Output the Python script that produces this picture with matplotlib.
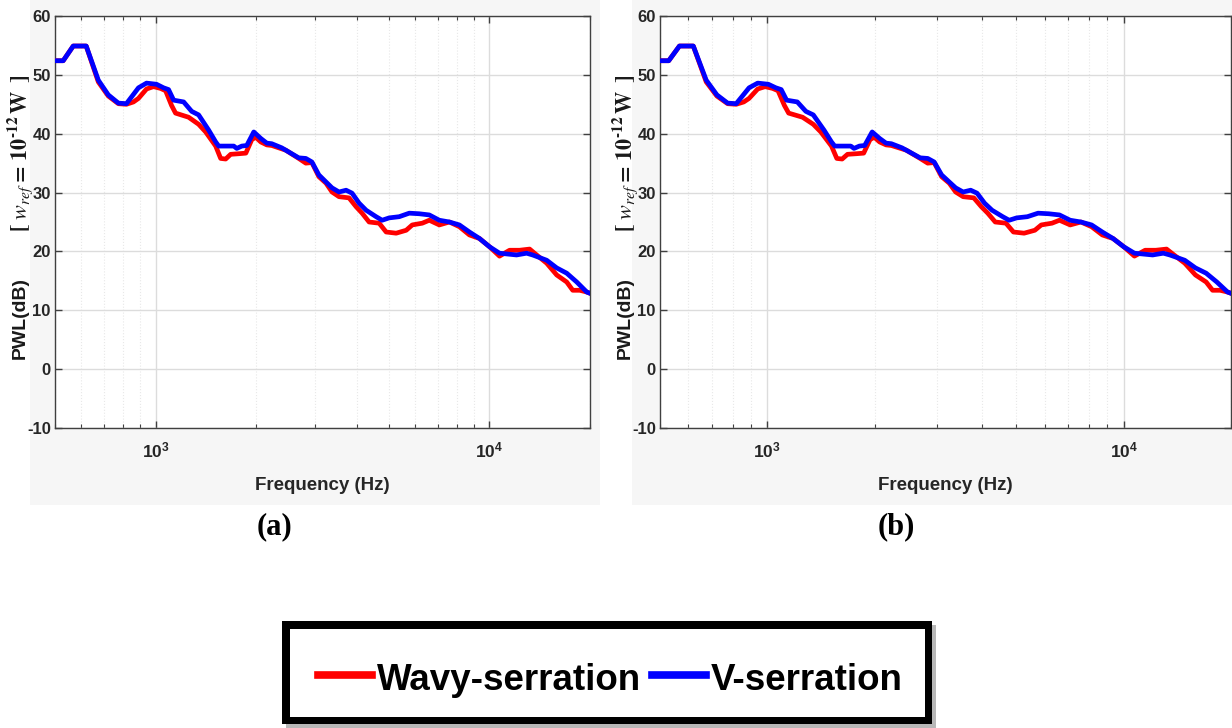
import matplotlib
matplotlib.use('Agg')
import matplotlib.pyplot as plt
from matplotlib import font_manager
from matplotlib.patches import Rectangle
from matplotlib.lines import Line2D
from matplotlib.ticker import NullLocator, NullFormatter, LogLocator

# ---------------- data ----------------
freq_wavy = [501, 529, 567, 620, 674, 722, 774, 818, 859, 889, 940, 986, 1035, 1072,
             1117, 1148, 1256, 1346, 1413, 1514, 1567, 1622, 1679, 1776, 1864, 1942,
             1996, 2066, 2154, 2229, 2455, 2685, 2819, 2939, 3084, 3240, 3377, 3544,
             3797, 3986, 4155, 4361, 4673, 4905, 5256, 5633, 5871, 6293, 6603, 7077,
             7584, 8127, 8709, 9333, 10000, 10716, 11484, 12307, 13189, 13843, 14836,
             15897, 17035, 17757, 18634, 19560, 19970]
pwl_wavy = [52.4, 52.4, 54.9, 54.9, 48.8, 46.4, 45.1, 45.0, 45.4, 46.0, 47.6, 48.0, 47.7, 47.3,
            44.8, 43.5, 42.8, 41.6, 40.3, 37.9, 35.8, 35.7, 36.5, 36.6, 36.7, 39.0,
            39.4, 38.6, 38.1, 38.0, 37.2, 35.8, 35.0, 35.1, 32.7, 31.6, 30.1, 29.3,
            29.1, 27.6, 26.5, 25.0, 24.8, 23.3, 23.1, 23.6, 24.5, 24.8, 25.3, 24.5,
            25.0, 24.2, 22.8, 22.2, 20.8, 19.2, 20.2, 20.2, 20.4, 19.4, 18.0,
            16.0, 14.8, 13.4, 13.4, 13.1, 12.9]

freq_v = [501, 529, 567, 620, 674, 722, 774, 818, 889, 940, 1007, 1057, 1094, 1133,
          1214, 1283, 1346, 1443, 1514, 1546, 1622, 1715, 1751, 1813, 1876, 1969,
          2066, 2154, 2229, 2388, 2558, 2685, 2819, 2939, 3084, 3240, 3377, 3544,
          3721, 3877, 4070, 4272, 4577, 4771, 5008, 5366, 5751, 6163, 6603, 7077,
          7584, 8127, 8709, 9333, 10000, 10716, 12054, 12918, 13466, 14836, 15897,
          17035, 18255, 19560, 19970]
pwl_v = [52.4, 52.4, 54.9, 54.9, 49.1, 46.6, 45.2, 45.1, 47.8, 48.6, 48.4, 47.8, 47.5, 45.7,
         45.4, 43.8, 43.2, 40.6, 38.6, 37.9, 37.9, 37.9, 37.5, 37.9, 38.0, 40.3,
         39.2, 38.4, 38.3, 37.6, 36.6, 35.9, 35.8, 35.2, 33.0, 31.8, 30.8, 30.1,
         30.4, 29.9, 28.2, 27.0, 25.9, 25.3, 25.7, 25.9, 26.5, 26.4, 26.2, 25.3,
         25.0, 24.5, 23.3, 22.2, 20.8, 19.7, 19.4, 19.7, 19.4, 18.5, 17.2,
         16.3, 14.8, 13.1, 12.9]

series_labels = ['Wavy-serration', 'V-serration']
series_colors = ['#ff0000', '#0000ff']
x_ticks = [1e3, 1e4]
x_tick_labels = [r'$10^3$', r'$10^4$']
y_ticks = [-10, 0, 10, 20, 30, 40, 50, 60]
y_tick_labels = ['-10', '0', '10', '20', '30', '40', '50', '60']
panel_titles = ['(a)', '(b)']
x_label = 'Frequency (Hz)'
y_label_main = 'PWL(dB)'
y_label_ref = (r'$\mathbf{[}\ \mathit{w}_{\mathit{ref}}\mathbf{=\,10^{' + '\u2010'
               + r'12}\,W\ \,]}$')

# ---------------- fonts ----------------
names = {f.name for f in font_manager.fontManager.ttflist}
narrow = 'Liberation Sans Narrow' if 'Liberation Sans Narrow' in names else 'Liberation Sans'
plt.rcParams['font.family'] = [narrow, 'DejaVu Sans']
plt.rcParams['mathtext.fontset'] = 'custom'
plt.rcParams['mathtext.rm'] = narrow + ':bold'
plt.rcParams['mathtext.bf'] = narrow + ':bold'
plt.rcParams['mathtext.it'] = narrow + ':italic:bold'
plt.rcParams['axes.unicode_minus'] = False

W, H = 1232, 728
fig = plt.figure(figsize=(W / 100, H / 100), dpi=100)
fig.patch.set_facecolor('white')


def fx(px):
    return px / W


def fy(py):
    return 1 - py / H


# light grey figure backgrounds of the two exported panels
for (x0, x1) in [(30, 600), (632, 1232)]:
    fig.patches.append(Rectangle((fx(x0), fy(505)), (x1 - x0) / W, 505 / H,
                                 transform=fig.transFigure, facecolor='#f6f6f6',
                                 edgecolor='none', zorder=-10))

axes_px = [(55, 535), (660, 571)]
ylabel_x = [20, 625]
title_x = [275, 896]

for i, (left, width) in enumerate(axes_px):
    ax = fig.add_axes([fx(left), fy(428), width / W, 412 / H])
    ax.set_zorder(1)
    ax.set_facecolor('white')
    ax.set_xscale('log')
    ax.plot(freq_wavy, pwl_wavy, color=series_colors[0], lw=3.4, solid_joinstyle='round', zorder=3)
    ax.plot(freq_v, pwl_v, color=series_colors[1], lw=3.4, solid_joinstyle='round', zorder=4)
    ax.set_xlim(500, 20000)
    ax.set_ylim(-10, 60)
    ax.set_yticks(y_ticks, y_tick_labels, fontsize=12, fontweight='bold', color='#262626')
    ax.set_xticks(x_ticks, x_tick_labels, fontsize=12.5, color='#262626')
    ax.xaxis.set_minor_locator(LogLocator(base=10, subs=range(2, 10)))
    ax.xaxis.set_minor_formatter(NullFormatter())
    ax.yaxis.set_minor_locator(NullLocator())
    ax.grid(which='major', color='#dcdcdc', lw=1.0, ls='-')
    ax.grid(which='minor', axis='x', color='#e8e8e8', lw=0.8, ls=':')
    ax.set_axisbelow(True)
    ax.tick_params(which='both', direction='in', top=True, right=True, color='#404040')
    ax.tick_params(which='major', length=5, width=1)
    ax.tick_params(which='minor', length=3, width=0.8)
    ax.tick_params(axis='y', pad=3)
    ax.tick_params(axis='x', pad=9)
    for s in ax.spines.values():
        s.set_color('#404040')
        s.set_linewidth(1.0)
    ax.set_xlabel(x_label, fontsize=13.5, fontweight='bold', color='#262626', labelpad=12)

    # y label (two parts: sans bold + serif math)
    fig.text(fx(ylabel_x[i]), fy(318), y_label_main, rotation=90, ha='center', va='center',
             fontsize=14, fontweight='bold', family=['Liberation Sans', 'DejaVu Sans'],
             color='#1a1a1a', zorder=2)
    fig.text(fx(ylabel_x[i]), fy(153), y_label_ref,
             rotation=90, ha='center', va='center', fontsize=16,
             math_fontfamily='stix', color='#1a1a1a', zorder=2)

    fig.text(fx(title_x[i]), fy(527), panel_titles[i], ha='center', va='center',
             fontsize=22, fontweight='bold', family=['Liberation Serif', 'DejaVu Serif'])

# ---------------- legend ----------------
fig.patches.append(Rectangle((fx(286), fy(728)), 650 / W, 103 / H, transform=fig.transFigure,
                             facecolor='#9a9a9a', edgecolor='none', alpha=0.7, zorder=5))
fig.patches.append(Rectangle((fx(282), fy(724)), 650 / W, 103 / H, transform=fig.transFigure,
                             facecolor='black', edgecolor='none', zorder=6))
fig.patches.append(Rectangle((fx(290), fy(717)), 635 / W, 88 / H, transform=fig.transFigure,
                             facecolor='white', edgecolor='none', zorder=7))
handle_px = [(318, 372, 377), (652, 706, 711)]
for (h0, h1, tx), lab, col in zip(handle_px, series_labels, series_colors):
    fig.lines.append(Line2D([fx(h0), fx(h1)], [fy(675), fy(675)], transform=fig.transFigure,
                            color=col, lw=5.5, zorder=8))
    fig.text(fx(tx), fy(690), lab, ha='left', va='baseline', fontsize=26.5,
             fontweight='bold', family=['Liberation Sans', 'DejaVu Sans'], zorder=9)

fig.savefig('out.png', dpi=100, facecolor='white')
